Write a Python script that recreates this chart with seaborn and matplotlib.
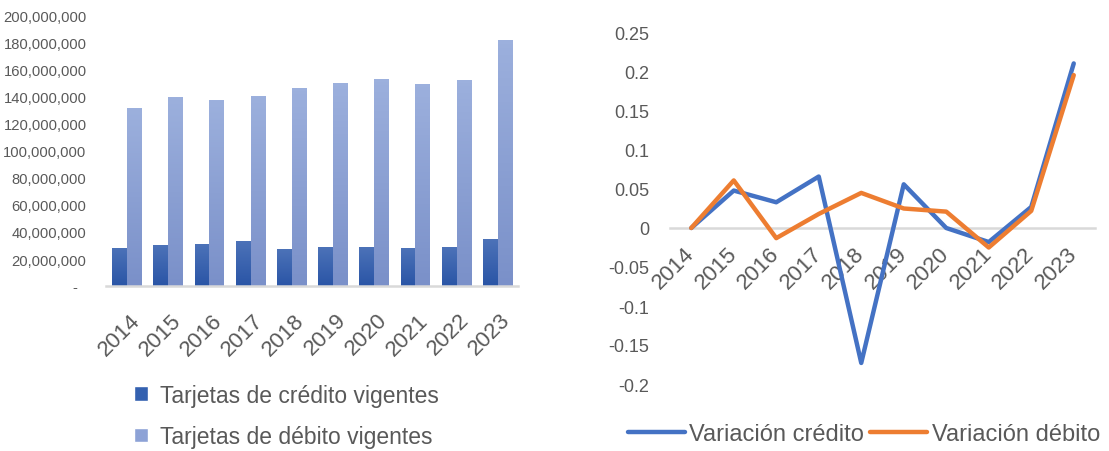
import numpy as np
import pandas as pd
import matplotlib
matplotlib.use("Agg")
import matplotlib.pyplot as plt
import matplotlib.transforms as mtransforms
from matplotlib.colors import LinearSegmentedColormap
from matplotlib.patches import Patch
from matplotlib.lines import Line2D
import seaborn as sns

# data
years = ["2014", "2015", "2016", "2017", "2018", "2019", "2020", "2021", "2022", "2023"]
credito = [28.4e6, 30.1e6, 30.9e6, 33.1e6, 27.2e6, 28.6e6, 28.6e6, 27.9e6, 28.6e6, 34.6e6]
debito = [131.6e6, 139.8e6, 137.5e6, 140.5e6, 146.4e6, 150.1e6, 153.1e6, 149.4e6, 152.3e6, 182.0e6]
var_credito = [0.0, 0.048, 0.033, 0.066, -0.173, 0.056, 0.0, -0.018, 0.027, 0.211]
var_debito = [0.0, 0.061, -0.013, 0.018, 0.045, 0.025, 0.021, -0.025, 0.022, 0.196]

bar_names = ["Tarjetas de crédito vigentes", "Tarjetas de débito vigentes"]
line_names = ["Variación crédito", "Variación débito"]

sns.set_style("white")
plt.rcParams["font.family"] = ["Liberation Sans", "DejaVu Sans"]
txt = "#595959"

fig = plt.figure(figsize=(11.09, 4.52), dpi=100)
ax1 = fig.add_axes([106 / 1109, 1 - 287 / 452, 412 / 1109, 270 / 452])
ax2 = fig.add_axes([670 / 1109, 1 - 385 / 452, 425 / 1109, 351 / 452])

# ---- left: bars
bars = pd.DataFrame({
    "year": years * 2,
    "value": credito + debito,
    "serie": [bar_names[0]] * len(years) + [bar_names[1]] * len(years),
})
sns.barplot(data=bars, x="year", y="value", hue="serie", hue_order=bar_names,
            palette=["#3461B0", "#8DA2D6"], width=0.72, gap=0.05,
            legend=False, ax=ax1)

# vertical gradient on each bar, like the Excel fill
grads = [("#2A55A6", "#4C72B8"), ("#7A90C9", "#9CB0DD")]
n = len(years)
for i, p in enumerate(list(ax1.patches)):
    lo, hi = grads[0] if i < n else grads[1]
    cmap = LinearSegmentedColormap.from_list("g", [lo, hi])
    x0, w, h = p.get_x(), p.get_width(), p.get_height()
    im = ax1.imshow(np.linspace(0, 1, 64).reshape(-1, 1), cmap=cmap, origin="lower",
                    extent=[x0, x0 + w, 0, h], aspect="auto", zorder=p.get_zorder())
    im.set_clip_path(p)
    p.set_facecolor("none")
    p.set_edgecolor("none")
ax1.set_xlim(-0.5, 9.5)
ax1.set_ylim(0, 200e6)

ax1.set_yticks(np.arange(0, 200e6 + 1, 20e6))
ax1.set_yticklabels(["-  "] + [f"{int(v):,}" for v in np.arange(20e6, 200e6 + 1, 20e6)])
ax1.tick_params(axis="y", length=0, pad=14, labelsize=10.6, labelcolor=txt)
ax1.tick_params(axis="x", length=0, pad=22, labelsize=16, labelcolor=txt)
ax1.set_xlabel("")
ax1.set_ylabel("")
for s in ["top", "right", "left"]:
    ax1.spines[s].set_visible(False)
ax1.spines["bottom"].set_color("#D9D9D9")
ax1.spines["bottom"].set_linewidth(1.8)
for lab in ax1.get_xticklabels():
    lab.set_rotation(45)
    lab.set_rotation_mode("anchor")
    lab.set_ha("right")
    lab.set_va("center")
    lab.set_transform(lab.get_transform() + mtransforms.ScaledTranslation(0.10, 0, fig.dpi_scale_trans))

h1 = [Patch(facecolor="#3461B0"), Patch(facecolor="#8DA2D6")]
fig.legend(h1, bar_names, loc="center left", bbox_to_anchor=(134 / 1109, 1 - 417 / 452),
           frameon=False, fontsize=16.5, labelcolor=txt, handlelength=0.6, handleheight=0.6,
           handletextpad=0.55, labelspacing=0.8, borderpad=0, borderaxespad=0)

# ---- right: lines
lines = pd.DataFrame({
    "year": years * 2,
    "value": var_credito + var_debito,
    "serie": [line_names[0]] * len(years) + [line_names[1]] * len(years),
})
sns.lineplot(data=lines, x="year", y="value", hue="serie", hue_order=line_names,
             palette=["#4472C4", "#ED7D31"], linewidth=3.2, legend=False, ax=ax2)
ax2.set_xlim(-0.5, 9.5)
ax2.set_ylim(-0.2, 0.25)
ax2.set_yticks([-0.2, -0.15, -0.1, -0.05, 0, 0.05, 0.1, 0.15, 0.2, 0.25])
ax2.set_yticklabels(["-0.2", "-0.15", "-0.1", "-0.05", "0", "0.05", "0.1", "0.15", "0.2", "0.25"])
ax2.set_xlabel("")
ax2.set_ylabel("")
for s in ["top", "right", "left"]:
    ax2.spines[s].set_visible(False)
ax2.spines["bottom"].set_position(("data", 0))
ax2.spines["bottom"].set_color("#D9D9D9")
ax2.spines["bottom"].set_linewidth(1.8)
ax2.spines["bottom"].set_zorder(0.5)
ax2.tick_params(axis="y", length=0, pad=15, labelsize=13, labelcolor=txt)
ax2.tick_params(axis="x", length=0, pad=16, labelsize=16, labelcolor=txt)
for lab in ax2.get_xticklabels():
    lab.set_rotation(45)
    lab.set_rotation_mode("anchor")
    lab.set_ha("right")
    lab.set_va("center")

h2 = [Line2D([], [], color="#4472C4", lw=3.2), Line2D([], [], color="#ED7D31", lw=3.2)]
fig.legend(h2, line_names, loc="center left", bbox_to_anchor=(628 / 1109, 1 - 435 / 452),
           ncol=2, frameon=False, fontsize=17, labelcolor=txt, handlelength=2.4,
           handletextpad=0.2, columnspacing=0.26, borderpad=0, borderaxespad=0)

fig.savefig("out.png", dpi=100)
